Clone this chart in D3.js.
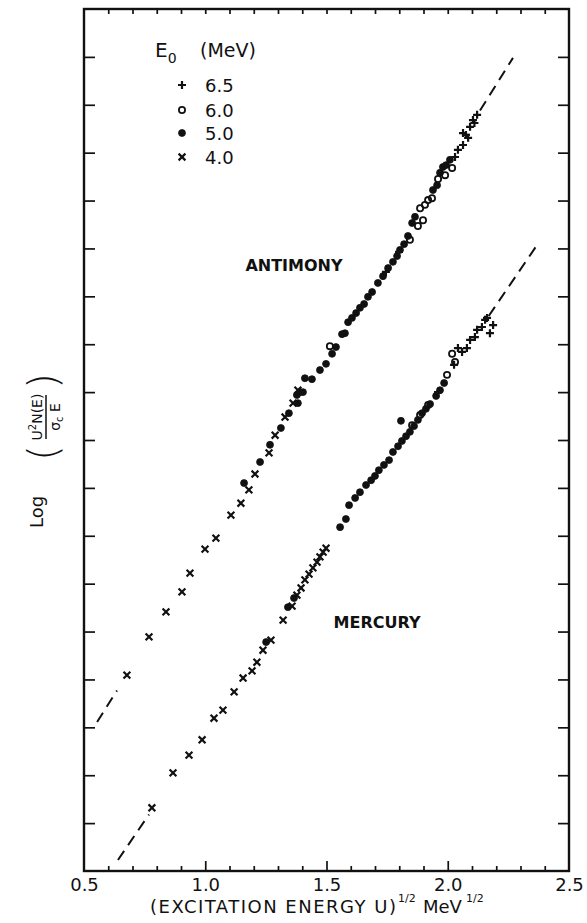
<!DOCTYPE html>
<html>
<head>
<meta charset="utf-8">
<script src="https://cdn.jsdelivr.net/npm/d3@7"></script>
<style>
  body { margin: 0; background: #fff; }
  text { font-family: "DejaVu Sans", "Liberation Sans", sans-serif; fill: #111; }
</style>
</head>
<body>
<svg id="chart" width="587" height="923"></svg>
<script>
// Level density plot: Log(U^2 N(E) / sigma_c E) against sqrt(U), antimony and mercury.

// ---- axis values ----
const xLabelValues = [0.5, 1.0, 1.5, 2.0, 2.5];
const xTickLabels = ["0.5", "1.0", "1.5", "2.0", "2.5"];
const xMinorTicks = [0.6, 0.7, 0.8, 0.9, 1.0, 1.1, 1.2, 1.3, 1.4, 1.5, 1.6, 1.7, 1.8, 1.9, 2.0, 2.1, 2.2, 2.3, 2.4];
const xMajorTicks = [1.0, 1.5, 2.0];
const yTicks = [1, 2, 3, 4, 5, 6, 7, 8, 9, 10, 11, 12, 13, 14, 15, 16, 17];

// ---- legend ----
const energies = ["6.5", "6.0", "5.0", "4.0"];
const markerKinds = ["plus", "circle", "dot", "cross"];

// ---- antimony: [sqrt(U), log value] ----
const antimony65 = [[2.030,14.91],[2.042,15.06],[2.063,15.16],[2.063,15.41],[2.075,15.37],[2.084,15.31],[2.092,15.54],[2.104,15.68],[2.110,15.62],[2.121,15.79],[1.745,12.51],[1.799,12.93]];
const antimony60 = [[1.514,10.96],[1.844,13.18],[1.877,13.47],[1.886,13.84],[1.898,13.59],[1.906,13.91],[1.919,14.01],[1.935,14.05],[1.960,14.45],[1.989,14.53],[2.018,14.68]];
const antimony50 = [[1.160,8.10],[1.226,8.54],[1.267,8.90],[1.312,9.25],[1.345,9.56],[1.382,9.77],[1.378,9.94],[1.391,10.00],[1.403,10.00],[1.411,10.29],[1.440,10.27],[1.473,10.46],[1.498,10.59],[1.523,10.80],[1.539,10.94],[1.564,11.21],[1.576,11.23],[1.589,11.46],[1.605,11.55],[1.622,11.65],[1.638,11.76],[1.655,11.84],[1.671,11.99],[1.688,12.09],[1.712,12.28],[1.733,12.42],[1.754,12.59],[1.774,12.72],[1.791,12.84],[1.803,12.97],[1.820,13.09],[1.836,13.26],[1.853,13.53],[1.865,13.66],[1.939,14.22],[1.956,14.32],[1.968,14.58],[1.980,14.70],[1.993,14.74],[2.009,14.85]];
const antimony40 = [[0.677,4.09],[0.768,4.89],[0.838,5.41],[0.904,5.83],[0.937,6.22],[0.999,6.72],[1.044,6.95],[1.106,7.43],[1.147,7.68],[1.180,7.96],[1.205,8.29],[1.263,8.73],[1.288,9.10],[1.329,9.48],[1.362,9.77],[1.382,10.04]];

// ---- mercury ----
const mercury65 = [[1.960,10.00],[2.026,10.57],[2.042,10.92],[2.059,10.84],[2.079,10.92],[2.092,11.09],[2.112,11.15],[2.121,11.30],[2.141,11.36],[2.154,11.51],[2.162,11.55],[2.187,11.40],[2.174,11.23]];
const mercury60 = [[1.853,9.31],[1.886,9.52],[1.919,9.73],[1.997,10.36],[2.018,10.80],[2.030,10.63]];
const mercury50 = [[1.251,4.78],[1.341,5.51],[1.366,5.70],[1.556,7.18],[1.580,7.35],[1.593,7.64],[1.618,7.79],[1.638,7.91],[1.663,8.06],[1.684,8.16],[1.700,8.25],[1.716,8.37],[1.737,8.48],[1.758,8.58],[1.774,8.75],[1.795,8.87],[1.807,9.40],[1.811,8.98],[1.828,9.08],[1.844,9.17],[1.861,9.29],[1.877,9.42],[1.894,9.56],[1.910,9.65],[1.927,9.75],[1.952,9.92],[1.968,10.04],[1.985,10.19]];
const mercury40 = [[0.780,1.32],[0.867,2.05],[0.933,2.42],[0.987,2.74],[1.036,3.19],[1.073,3.36],[1.119,3.74],[1.156,4.03],[1.193,4.18],[1.213,4.36],[1.238,4.61],[1.271,4.82],[1.321,5.24],[1.358,5.53],[1.378,5.76],[1.395,5.91],[1.411,6.08],[1.428,6.20],[1.444,6.33],[1.461,6.45],[1.473,6.56],[1.486,6.66],[1.498,6.74]];

// ---- fitted straight lines (dashed where no data), pairs of end points ----
const antimonyFitLow = [[0.554, 3.11], [0.636, 3.77]];
const antimonyFitHigh = [[2.133, 15.88], [2.269, 16.98]];
const mercuryFitLow = [[0.640, 0.23], [0.768, 1.18]];
const mercuryFitHigh = [[2.169, 11.59], [2.368, 13.07]];

// ---- layout ----
const svg = d3.select("#chart");
const plotLeft = 84, plotRight = 569, plotTop = 9, plotBottom = 871;

const x = d3.scaleLinear().domain([0.5, 2.5]).range([plotLeft, plotRight]);
const y = d3.scaleLinear().domain([0, 18]).range([plotBottom, plotTop]);

// frame
svg.append("rect")
  .attr("x", plotLeft).attr("y", plotTop)
  .attr("width", plotRight - plotLeft).attr("height", plotBottom - plotTop)
  .attr("fill", "none").attr("stroke", "#111").attr("stroke-width", 2.4);

function cleanAxis(g) {
  g.select(".domain").remove();
  g.selectAll("line").attr("stroke", "#111").attr("stroke-width", 1.7);
}

// bottom ticks (inward)
svg.append("g").attr("transform", `translate(0,${plotBottom})`)
  .call(d3.axisBottom(x).tickValues(xMinorTicks.filter(v => !xMajorTicks.includes(v))).tickSize(-5).tickFormat(""))
  .call(cleanAxis);
svg.append("g").attr("transform", `translate(0,${plotBottom})`)
  .call(d3.axisBottom(x).tickValues(xMajorTicks).tickSize(-10).tickFormat(""))
  .call(cleanAxis);
// bottom labels
const xl = svg.append("g").attr("transform", `translate(0,${plotBottom})`)
  .call(d3.axisBottom(x).tickValues(xLabelValues).tickSize(0).tickPadding(7)
    .tickFormat((d, i) => xTickLabels[i]));
xl.select(".domain").remove();
xl.selectAll("text").style("font-size", "18px").style("font-family", "DejaVu Sans, sans-serif").attr("fill", "#111");

// top ticks (inward)
svg.append("g").attr("transform", `translate(0,${plotTop})`)
  .call(d3.axisTop(x).tickValues(xMinorTicks).tickSize(-5).tickFormat(""))
  .call(cleanAxis);

// left / right ticks (inward)
svg.append("g").attr("transform", `translate(${plotLeft},0)`)
  .call(d3.axisLeft(y).tickValues(yTicks).tickSize(-11).tickFormat(""))
  .call(cleanAxis);
svg.append("g").attr("transform", `translate(${plotRight},0)`)
  .call(d3.axisRight(y).tickValues(yTicks).tickSize(-11).tickFormat(""))
  .call(cleanAxis);

// x axis title
const xt = svg.append("g");
xt.append("text").attr("x", 150).attr("y", 913)
  .attr("textLength", 246).attr("lengthAdjust", "spacing")
  .style("font-size", "18px").text("(EXCITATION ENERGY U)");
xt.append("text").attr("x", 398).attr("y", 902).style("font-size", "11px").text("1/2");
xt.append("text").attr("x", 423).attr("y", 913).style("font-size", "18px").text("MeV");
xt.append("text").attr("x", 466).attr("y", 902).style("font-size", "11px").text("1/2");

// y axis title: Log ( U^2 N(E) / sigma_c E )
const yt = svg.append("g").attr("transform", "translate(46,445) rotate(-90)");
yt.append("text").attr("x", -67).attr("y", -3).attr("text-anchor", "middle")
  .style("font-size", "18px").text("Log");
yt.append("text").attr("x", -8).attr("y", 11).attr("text-anchor", "middle")
  .style("font-size", "40px").style("font-weight", "300").text("(");
const num = yt.append("text").attr("x", 28).attr("y", -4).attr("text-anchor", "middle").style("font-size", "14px");
num.append("tspan").text("U");
num.append("tspan").attr("dy", -6).style("font-size", "10px").text("2");
num.append("tspan").attr("dy", 6).text("N(E)");
yt.append("line").attr("x1", 6).attr("x2", 50).attr("y1", 0).attr("y2", 0)
  .attr("stroke", "#111").attr("stroke-width", 1.5);
const den = yt.append("text").attr("x", 28).attr("y", 14).attr("text-anchor", "middle").style("font-size", "14px");
den.append("tspan").text("σ");
den.append("tspan").attr("dy", 3).style("font-size", "10px").text("c");
den.append("tspan").attr("dy", -3).text(" E");
yt.append("text").attr("x", 64).attr("y", 11).attr("text-anchor", "middle")
  .style("font-size", "40px").style("font-weight", "300").text(")");

// fitted lines
const lineGen = d3.line().x(d => x(d[0])).y(d => y(d[1]));
[antimonyFitLow, antimonyFitHigh, mercuryFitLow, mercuryFitHigh].forEach(seg => {
  svg.append("path").attr("d", lineGen(seg))
    .attr("fill", "none").attr("stroke", "#111").attr("stroke-width", 2)
    .attr("stroke-dasharray", "11,7");
});

// markers
const shapes = {
  plus: "M-4,0H4M0,-4V4",
  cross: "M-3.4,-3.4L3.4,3.4M-3.4,3.4L3.4,-3.4",
  dot: d3.symbol(d3.symbolCircle, 38)(),
  circle: d3.symbol(d3.symbolCircle, 30)()
};
function styleMarker(sel, kind) {
  sel.attr("d", shapes[kind]);
  if (kind === "dot") sel.attr("fill", "#111").attr("stroke", "#111").attr("stroke-width", 0.8);
  else if (kind === "circle") sel.attr("fill", "none").attr("stroke", "#111").attr("stroke-width", 1.8);
  else sel.attr("fill", "none").attr("stroke", "#111").attr("stroke-width", 2.2);
}
function drawSeries(data, kind) {
  svg.append("g").selectAll("path").data(data).join("path")
    .attr("transform", d => `translate(${x(d[0])},${y(d[1])})`)
    .call(styleMarker, kind);
}
drawSeries(antimony50, "dot");
drawSeries(antimony60, "circle");
drawSeries(antimony40, "cross");
drawSeries(antimony65, "plus");
drawSeries(mercury50, "dot");
drawSeries(mercury60, "circle");
drawSeries(mercury40, "cross");
drawSeries(mercury65, "plus");

// element labels
svg.append("text").attr("x", 294).attr("y", 271).attr("text-anchor", "middle")
  .style("font-size", "16px").style("font-weight", "bold").text("ANTIMONY");
svg.append("text").attr("x", 377).attr("y", 628).attr("text-anchor", "middle")
  .style("font-size", "16px").style("font-weight", "bold").text("MERCURY");

// legend
const lg = svg.append("g");
const head = lg.append("text").attr("x", 155).attr("y", 57).style("font-size", "20px");
head.append("tspan").text("E");
head.append("tspan").attr("dy", 6).style("font-size", "14px").text("0");
lg.append("text").attr("x", 200).attr("y", 57).style("font-size", "19px").text("(MeV)");
const rowY = [85, 110, 133, 157];
energies.forEach((e, i) => {
  lg.append("path").attr("transform", `translate(182,${rowY[i]})`).call(styleMarker, markerKinds[i]);
  lg.append("text").attr("x", 205).attr("y", rowY[i] + 6.5).style("font-size", "18px").text(e);
});
</script>
</body>
</html>
